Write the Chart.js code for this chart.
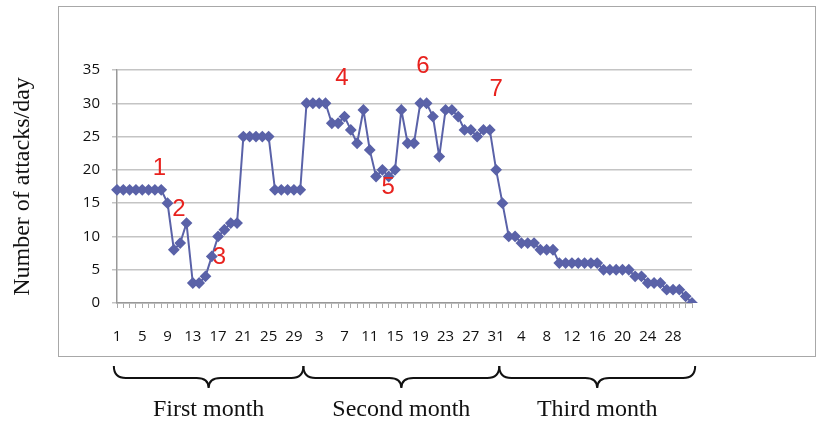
<!DOCTYPE html>
<html>
<head>
<meta charset="utf-8">
<script src="https://cdn.jsdelivr.net/npm/chart.js@4.4.1/dist/chart.umd.min.js"></script>
<style>
  html, body { margin: 0; padding: 0; background: #fff; }
  #wrap { position: relative; width: 817px; height: 421px; overflow: hidden; }
  #frame { position: absolute; left: 58px; top: 6px; width: 756px; height: 349px; border: 1.5px solid #a8a8a8; }
  canvas { position: absolute; left: 0; top: 0; }
</style>
</head>
<body>
<div id="wrap">
  <div id="frame"></div>
  <canvas id="grafica" width="817" height="421"></canvas>
</div>
<script>
// ataques por dia, tres meses seguidos
const primerMes = [17, 17, 17, 17, 17, 17, 17, 17, 15, 8, 9, 12, 3, 3, 4, 7, 10, 11, 12, 12, 25, 25, 25, 25, 25, 17, 17, 17, 17, 17];
const segundoMes = [30, 30, 30, 30, 27, 27, 28, 26, 24, 29, 23, 19, 20, 19, 20, 29, 24, 24, 30, 30, 28, 22, 29, 29, 28, 26, 26, 25, 26, 26, 20];
const tercerMes = [15, 10, 10, 9, 9, 9, 8, 8, 8, 6, 6, 6, 6, 6, 6, 6, 5, 5, 5, 5, 5, 4, 4, 3, 3, 3, 2, 2, 2, 1, 0];
const meses = [primerMes, segundoMes, tercerMes];
const nombresMes = ["First month", "Second month", "Third month"];
const ticksY = [0, 5, 10, 15, 20, 25, 30, 35];

// numeros rojos: texto, posicion en el eje x (indice) y valor en y
const marcas = ["1", "2", "3", "4", "5", "6", "7"];
const marcaIndice = [6.7, 9.8, 16.2, 35.6, 42.9, 48.4, 60];
const marcaValor = [20.2, 14.1, 6.9, 33.8, 17.3, 35.6, 32.1];

const etiquetas = [];
meses.forEach(m => m.forEach((_, i) => etiquetas.push(String(i + 1))));
const valores = [].concat(...meses);

function llave(ctx, x1, x2, y) {
  const xm = (x1 + x2) / 2;
  const h = 12;
  const r = 12;
  ctx.beginPath();
  ctx.moveTo(x1, y);
  ctx.quadraticCurveTo(x1, y + h, x1 + r, y + h);
  ctx.lineTo(xm - r, y + h);
  ctx.quadraticCurveTo(xm, y + h, xm, y + h + 10);
  ctx.quadraticCurveTo(xm, y + h, xm + r, y + h);
  ctx.lineTo(x2 - r, y + h);
  ctx.quadraticCurveTo(x2, y + h, x2, y);
  ctx.stroke();
}

const extras = {
  id: "extras",
  afterDraw(chart) {
    const ctx = chart.ctx;
    const x = chart.scales.x;
    const y = chart.scales.y;
    ctx.save();
    ctx.fillStyle = "#e8221e";
    ctx.font = "24px 'Liberation Sans'";
    ctx.textAlign = "center";
    ctx.textBaseline = "middle";
    marcas.forEach((t, i) => {
      ctx.fillText(t, x.getPixelForValue(marcaIndice[i]), y.getPixelForValue(marcaValor[i]));
    });
    ctx.strokeStyle = "#111";
    ctx.lineWidth = 2;
    ctx.fillStyle = "#111";
    ctx.font = "24px 'Liberation Serif'";
    let inicio = 0;
    meses.forEach((m, i) => {
      const x1 = x.getPixelForValue(inicio - 0.5);
      const x2 = x.getPixelForValue(inicio + m.length - 0.5);
      llave(ctx, x1, x2, 366);
      ctx.fillText(nombresMes[i], (x1 + x2) / 2, 410);
      inicio += m.length;
    });
    ctx.restore();
  }
};

const $grafica = document.getElementById("grafica");
new Chart($grafica, {
  type: "line",
  data: {
    labels: etiquetas,
    datasets: [{
      data: valores,
      borderColor: "rgb(90, 98, 168)",
      backgroundColor: "rgb(90, 98, 168)",
      borderWidth: 2,
      pointStyle: "rectRot",
      pointRadius: 4.5,
      tension: 0
    }]
  },
  options: {
    responsive: false,
    animation: false,
    layout: { padding: { top: 70, right: 125, bottom: 0, left: 0 } },
    plugins: { legend: { display: false }, tooltip: { enabled: false } },
    scales: {
      x: {
        offset: false,
        afterFit: s => { s.height = 118; },
        grid: { drawOnChartArea: false, tickLength: 5, color: "#aaa", lineWidth: 1 },
        border: { color: "#999", width: 1.5 },
        ticks: {
          autoSkip: false,
          maxRotation: 0,
          padding: 20,
          color: "#111",
          font: { family: "'Open Sans'", size: 15 },
          callback: (v, i) => (i % 4 === 0 ? etiquetas[i] : "")
        }
      },
      y: {
        min: 0,
        max: 35,
        afterFit: s => { s.width = 117; },
        afterBuildTicks: s => { s.ticks = ticksY.map(v => ({ value: v })); },
        grid: { color: "#c4c4c4", lineWidth: 1.5, tickLength: 5 },
        border: { color: "#999", width: 1.5 },
        ticks: { padding: 12, color: "#111", font: { family: "'Open Sans'", size: 15 } },
        title: {
          display: true,
          text: "Number of attacks/day",
          color: "#111",
          padding: { top: 8 },
          font: { family: "'Liberation Serif'", size: 24 }
        }
      }
    }
  },
  plugins: [extras]
});
</script>
</body>
</html>
